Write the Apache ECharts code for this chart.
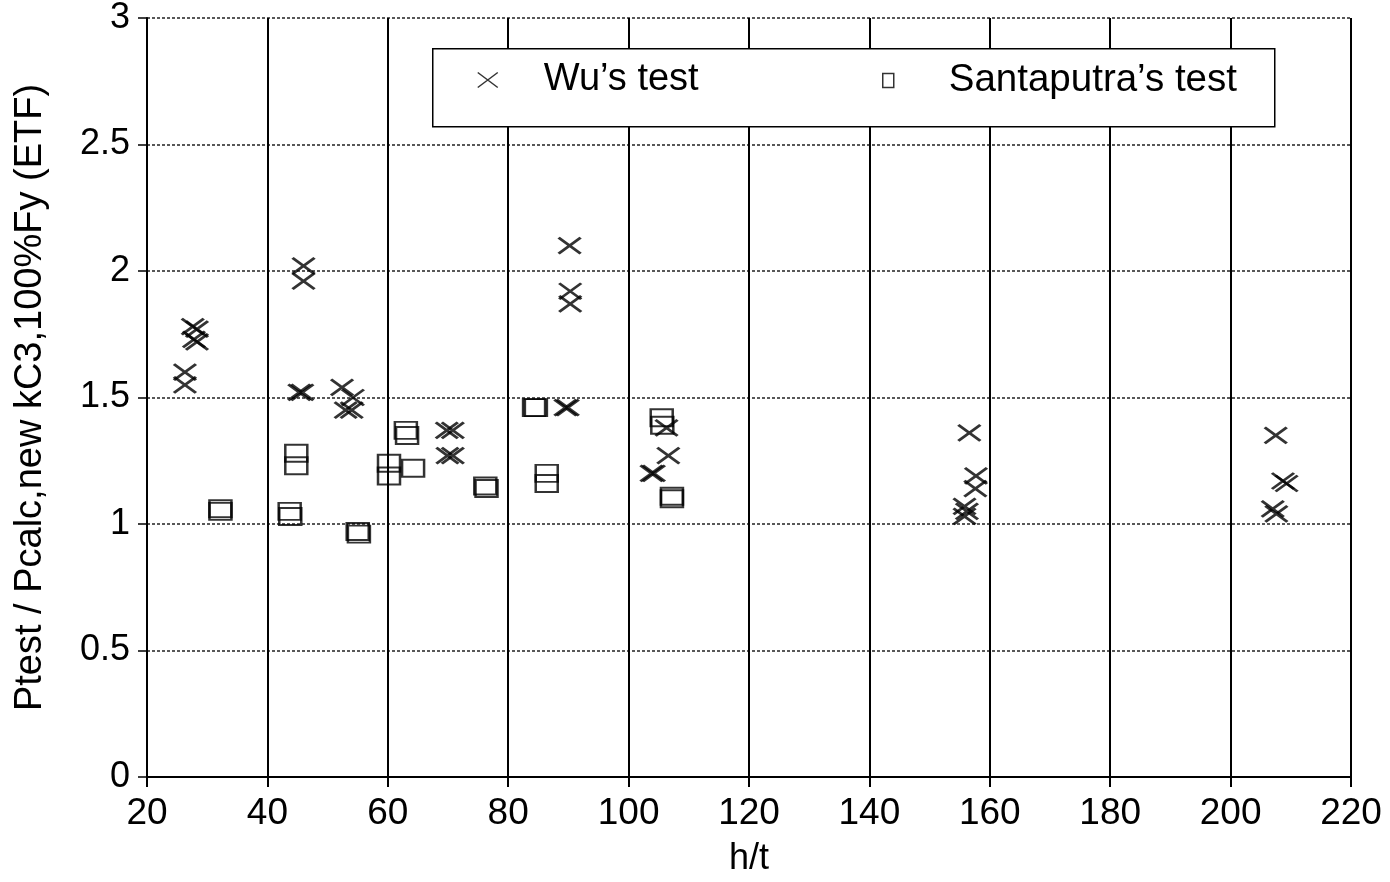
<!DOCTYPE html>
<html><head><meta charset="utf-8">
<script src="https://cdn.jsdelivr.net/npm/echarts@6/dist/echarts.min.js"></script>
<style>html,body{margin:0;padding:0;background:#fff}#c{width:1390px;height:882px}</style>
</head><body><div id="c"></div>
<script>
const xTicks = [20,40,60,80,100,120,140,160,180,200,220];
const yTicks = [0,0.5,1,1.5,2,2.5,3];
const wuHt = [26.3,26.3,27.6,28.3,27.8,28.3,46.0,46.0,45.3,45.8,52.4,54.2,53.0,54.0,69.8,70.8,69.9,70.8,90.2,90.3,90.3,89.5,89.9,103.8,104.2,106.3,106.6,156.6,157.7,157.6,155.8,156.2,155.8,207.5,208.7,209.3,207.0,207.6];
const wuRatio = [1.60,1.55,1.78,1.77,1.73,1.72,2.02,1.96,1.52,1.52,1.54,1.50,1.45,1.45,1.37,1.37,1.27,1.27,2.10,1.92,1.87,1.46,1.46,1.20,1.20,1.38,1.27,1.36,1.19,1.14,1.07,1.05,1.03,1.35,1.17,1.16,1.06,1.04];
const santHt = [32.2,32.2,43.7,43.8,44.8,44.8,55.0,55.2,60.2,60.2,63.0,63.2,64.2,76.2,76.4,84.3,84.6,86.4,86.4,105.5,105.6,107.2,107.2];
const santRatio = [1.06,1.05,1.05,1.03,1.28,1.23,0.97,0.96,1.24,1.19,1.37,1.35,1.22,1.15,1.14,1.46,1.46,1.20,1.16,1.42,1.39,1.11,1.10];
const seriesNames = ["Wu\u2019s test", "Santaputra\u2019s test"];
const xName = "h/t";
const yName = "Ptest / Pcalc,new kC3,100%Fy (ETF)";

const wuData = wuHt.map((x,i)=>[x, wuRatio[i]]);
const santData = santHt.map((x,i)=>[x, santRatio[i]]);
const FONT = "Liberation Sans";
const X_PATH = 'path://M0,0L20,15M20,0L0,15';

const chart = echarts.init(document.getElementById('c'));
chart.setOption({
  animation:false,
  backgroundColor:'#fff',
  grid:{left:147,right:39,top:18,bottom:105},
  xAxis:{type:'value',min:20,max:220,interval:20,
    name:xName,nameLocation:'middle',nameGap:64,
    nameTextStyle:{fontFamily:FONT,fontSize:36,color:'#000'},
    axisLine:{show:true,lineStyle:{color:'#000',width:2}},
    axisTick:{show:true,length:10,lineStyle:{color:'#000',width:2}},
    axisLabel:{fontFamily:FONT,fontSize:37,color:'#000',margin:18,formatter:v=>xTicks.includes(v)?String(v):''},
    splitLine:{show:true,lineStyle:{color:'#000',width:2,type:'solid'}}
  },
  yAxis:{type:'value',min:0,max:3,interval:0.5,
    name:yName,nameLocation:'middle',nameGap:97,nameRotate:90,
    nameTextStyle:{fontFamily:FONT,fontSize:38,color:'#000'},
    axisLine:{show:true,lineStyle:{color:'#000',width:2}},
    axisTick:{show:true,length:9,lineStyle:{color:'#000',width:1.5}},
    axisLabel:{fontFamily:FONT,fontSize:36,color:'#000',margin:17,formatter:v=>yTicks.includes(v)?String(v):''},
    splitLine:{show:true,lineStyle:{color:'#222',width:1.5,type:[3,2]}}
  },
  graphic:[{type:'rect',left:432,top:48,z:90,shape:{width:842,height:78},style:{fill:'#fff',stroke:'#000',lineWidth:1.5}}],
  legend:[
    {data:[seriesNames[0]],left:477,top:61,itemWidth:20,itemHeight:15,padding:0,z:100,
     textStyle:{fontFamily:FONT,fontSize:38,color:'#000',padding:[0,0,0,41]},
     itemStyle:{color:'transparent',borderColor:'#000',borderWidth:1.5}},
    {data:[seriesNames[1]],left:882,top:61,itemWidth:11,itemHeight:14,padding:0,z:100,
     textStyle:{fontFamily:FONT,fontSize:38.5,color:'#000',padding:[0,0,0,50]},
     itemStyle:{color:'transparent',borderColor:'#000',borderWidth:1.5}}
  ],
  series:[
    {name:seriesNames[0],type:'scatter',data:wuData,symbol:X_PATH,symbolSize:[22,16],
     itemStyle:{color:'transparent',borderColor:'#000',borderWidth:2.8},z:5},
    {name:seriesNames[1],type:'scatter',data:santData,symbol:'rect',symbolSize:[22,17],
     itemStyle:{color:'transparent',borderColor:'#000',borderWidth:2.2},z:4}
  ]
});
</script></body></html>
